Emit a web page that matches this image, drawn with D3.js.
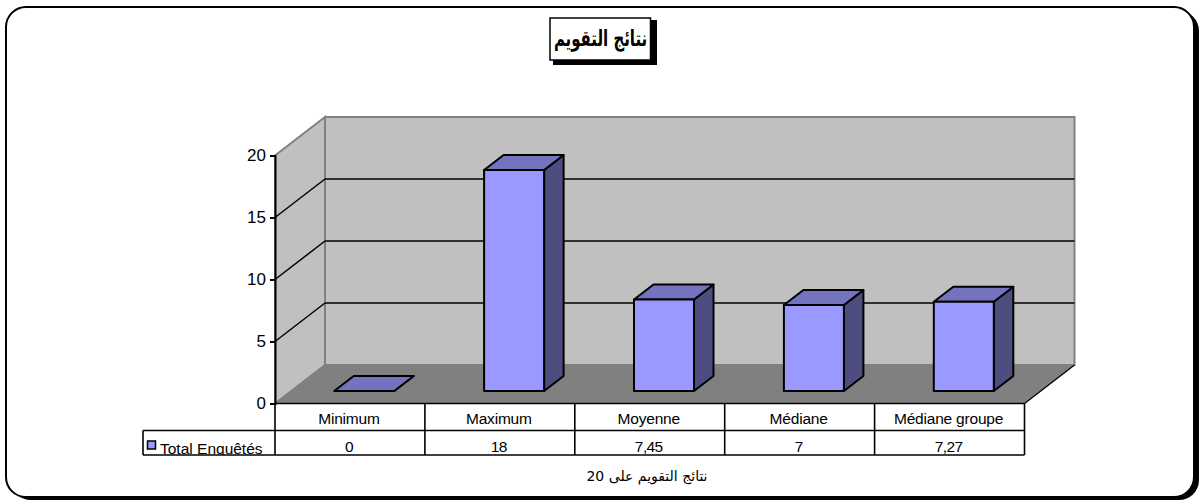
<!DOCTYPE html>
<html>
<head>
<meta charset="utf-8">
<script src="https://cdn.jsdelivr.net/npm/d3@7"></script>
<style>
  html, body { margin: 0; padding: 0; background: #fff; }
  svg { display: block; }
  text { font-family: "Liberation Sans", Arial, sans-serif; fill: #000; }
  .ar { font-family: "DejaVu Sans", sans-serif; }
</style>
</head>
<body>
<div id="chart"></div>
<script>
// ---- data ----
const categories = ['Minimum', 'Maximum', 'Moyenne', 'Médiane', 'Médiane groupe'];
const values = [0, 18, 7.45, 7, 7.27];
const valueLabels = ['0', '18', '7,45', '7', '7,27'];
const yTicks = [0, 5, 10, 15, 20];
const seriesName = 'Total Enquêtés';
const titleText = 'نتائج التقويم';
const axisTitle = 'نتائج التقويم على 20';

// ---- layout ----
const width = 1199, height = 500;
const depthX = 50, depthY = -38.5;     // shift from front plane to back wall
const barDepth = 0.39;                 // share of the floor depth a bar takes
const barWidth = 60;
const barOffset = 59.2;                // bar's left edge from the left of its category

const x = d3.scaleBand().domain(categories).range([275, 1024.5]);
const y = d3.scaleLinear().domain([0, 20]).range([403.5, 155.5]);
// bars stand a little way back on the floor
const barY = d3.scaleLinear().domain([0, 20]).range([391, 145.5]);

const svg = d3.select('#chart').append('svg')
  .attr('width', width).attr('height', height);

const poly = pts => pts.map(p => p.join(',')).join(' ');

// outer frame
svg.append('rect')
  .attr('x', 11).attr('y', 11).attr('width', 1188).attr('height', 489)
  .attr('rx', 20).attr('fill', '#000');
svg.append('rect')
  .attr('x', 6).attr('y', 7).attr('width', 1188).attr('height', 490)
  .attr('rx', 20).attr('fill', '#fff').attr('stroke', '#000').attr('stroke-width', 2);
svg.append('path') // right and bottom edges sit on the shadow
  .attr('d', 'M1194,30 V477 A20,20 0 0 1 1174,497 H30')
  .attr('fill', 'none').attr('stroke', '#000').attr('stroke-width', 1);

// title box
svg.append('rect').attr('x', 553).attr('y', 20).attr('width', 104).attr('height', 45).attr('fill', '#000');
svg.append('rect').attr('x', 550).attr('y', 18).attr('width', 100.5).attr('height', 42)
  .attr('fill', '#fff').attr('stroke', '#000').attr('stroke-width', 1.5);
svg.append('text').attr('class', 'ar')
  .attr('transform', 'translate(600.5,46) scale(0.88,1.3)')
  .attr('text-anchor', 'middle')
  .attr('font-size', 17).attr('font-weight', 'bold').attr('direction', 'rtl')
  .text(titleText);

// 3D walls
const x0 = x.range()[0], x1 = x.range()[1];
const yBase = y(0), yTop = y(20);

svg.append('polygon') // back wall
  .attr('points', poly([[x0 + depthX, yTop + depthY], [x1 + depthX, yTop + depthY], [x1 + depthX, yBase + depthY], [x0 + depthX, yBase + depthY]]))
  .attr('fill', '#c0c0c0').attr('stroke', '#808080').attr('stroke-width', 2);
svg.append('polygon') // side wall
  .attr('points', poly([[x0, yTop], [x0 + depthX, yTop + depthY], [x0 + depthX, yBase + depthY], [x0, yBase]]))
  .attr('fill', '#c0c0c0').attr('stroke', '#808080').attr('stroke-width', 2);
svg.append('polygon') // floor
  .attr('points', poly([[x0, yBase], [x1, yBase], [x1 + depthX, yBase + depthY], [x0 + depthX, yBase + depthY]]))
  .attr('fill', '#808080').attr('stroke', '#808080').attr('stroke-width', 1);
svg.append('line') // floor edge on the right
  .attr('x1', x1).attr('y1', yBase).attr('x2', x1 + depthX).attr('y2', yBase + depthY)
  .attr('stroke', '#000').attr('stroke-width', 1.2);

// gridlines on walls
const gridTicks = yTicks.filter(t => t > 0 && t < 20);
svg.selectAll('.grid-side').data(gridTicks).join('line').attr('class', 'grid-side')
  .attr('x1', x0).attr('y1', d => y(d))
  .attr('x2', x0 + depthX).attr('y2', d => y(d) + depthY)
  .attr('stroke', '#000').attr('stroke-width', 1.5);
svg.selectAll('.grid-back').data(gridTicks).join('line').attr('class', 'grid-back')
  .attr('x1', x0 + depthX).attr('y1', d => y(d) + depthY)
  .attr('x2', x1 + depthX).attr('y2', d => y(d) + depthY)
  .attr('stroke', '#000').attr('stroke-width', 1.5);

// y axis
const yAxis = d3.axisLeft(y).tickValues(yTicks).tickSize(5).tickPadding(4);
const axisG = svg.append('g').attr('transform', `translate(${x0},0)`).call(yAxis);
axisG.selectAll('path').attr('stroke', '#000').attr('stroke-width', 2);
axisG.selectAll('line').attr('stroke', '#000').attr('stroke-width', 2);
axisG.selectAll('text').style('font-family', '"Liberation Sans", Arial, sans-serif').attr('font-size', 17);

// bars
const dx = depthX * barDepth, dy = depthY * barDepth;

const bars = svg.selectAll('.bar').data(values).join('g').attr('class', 'bar');
bars.each(function (v, i) {
  const g = d3.select(this);
  const left = x(categories[i]) + barOffset;
  const right = left + barWidth;
  const bot = barY(0);
  const top = barY(v);
  g.append('polygon') // side
    .attr('points', poly([[right, top], [right + dx, top + dy], [right + dx, bot + dy], [right, bot]]))
    .attr('fill', '#4d4d80');
  g.append('polygon') // top
    .attr('points', poly([[left, top], [right, top], [right + dx, top + dy], [left + dx, top + dy]]))
    .attr('fill', '#7373bf');
  if (v > 0) {
    g.append('rect') // front
      .attr('x', left).attr('y', top).attr('width', barWidth).attr('height', bot - top)
      .attr('fill', '#9999ff');
  }
  g.selectAll('polygon,rect').attr('stroke', '#000').attr('stroke-width', 2).attr('stroke-linejoin', 'round');
});

// data table
const rowTop = yBase, rowMid = 430.5, rowBot = 455, legendLeft = 143;
const clip = svg.append('clipPath').attr('id', 'row-clip');
clip.append('rect').attr('x', legendLeft).attr('y', rowMid).attr('width', x1 - legendLeft).attr('height', rowBot - rowMid);

const table = svg.append('g').attr('stroke', '#000').attr('stroke-width', 1.6);
table.append('line').attr('x1', x0).attr('y1', rowTop).attr('x2', x1).attr('y2', rowTop);
table.append('line').attr('x1', legendLeft).attr('y1', rowMid).attr('x2', x1).attr('y2', rowMid);
table.append('line').attr('x1', legendLeft).attr('y1', rowBot).attr('x2', x1).attr('y2', rowBot);
table.append('line').attr('x1', legendLeft).attr('y1', rowMid).attr('x2', legendLeft).attr('y2', rowBot);
table.selectAll('.vline').data([...categories.map(c => x(c)), x1]).join('line').attr('class', 'vline')
  .attr('x1', d => d).attr('y1', rowTop).attr('x2', d => d).attr('y2', rowBot);

svg.selectAll('.cat').data(categories).join('text').attr('class', 'cat')
  .attr('x', d => x(d) + x.bandwidth() / 2 - 1).attr('y', 424)
  .attr('text-anchor', 'middle').attr('font-size', 15.5).attr('letter-spacing', -0.2)
  .text(d => d);
svg.selectAll('.val').data(valueLabels).join('text').attr('class', 'val')
  .attr('x', (d, i) => x(categories[i]) + x.bandwidth() / 2 - 1).attr('y', 452)
  .attr('text-anchor', 'middle').attr('font-size', 15.5).attr('letter-spacing', -0.6)
  .text(d => d);

// legend
svg.append('rect').attr('x', 147.5).attr('y', 441).attr('width', 8).attr('height', 8)
  .attr('fill', '#9999ff').attr('stroke', '#000').attr('stroke-width', 1.5);
svg.append('text').attr('x', 160).attr('y', 453.5).attr('font-size', 15.5)
  .attr('clip-path', 'url(#row-clip)')
  .text(seriesName);

// category axis title
svg.append('text').attr('class', 'ar')
  .attr('x', 647).attr('y', 481).attr('text-anchor', 'middle')
  .attr('font-size', 14).attr('direction', 'rtl')
  .text(axisTitle);
</script>
</body>
</html>
